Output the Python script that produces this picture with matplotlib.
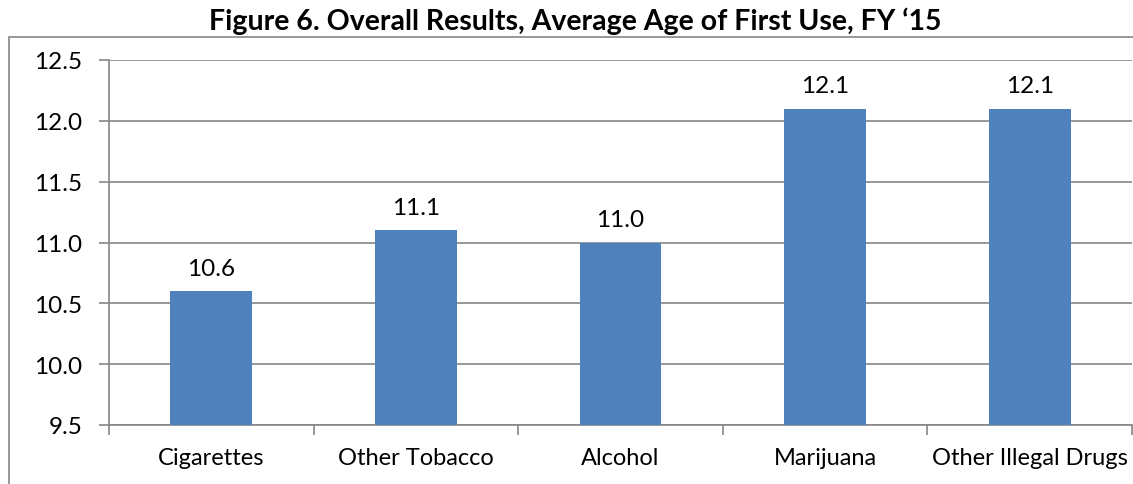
import matplotlib.pyplot as plt
from matplotlib.patches import Rectangle

categories = ["Cigarettes", "Other Tobacco", "Alcohol", "Marijuana", "Other Illegal Drugs"]
avg_age = [10.6, 11.1, 11.0, 12.1, 12.1]
y_ticks = [9.5, 10.0, 10.5, 11.0, 11.5, 12.0, 12.5]

plt.rcParams['font.family'] = ['Lato', 'DejaVu Sans']
GRAY = "#868686"
BLUE = "#4F81BD"

fig = plt.figure(figsize=(11.33, 4.85), dpi=100)
ax = fig.add_axes([109 / 1133, 59 / 485, 1023 / 1133, 365 / 485])

# outer chart frame (runs off the right and bottom edges)
fig.patches.append(Rectangle((9 / 1133, -0.1), 1.2, (485 - 38) / 485 + 0.1,
                             transform=fig.transFigure, fill=False,
                             edgecolor=GRAY, linewidth=1.2, zorder=0))

x = list(range(len(categories)))
bars = ax.bar(x, [v - 9.5 for v in avg_age], bottom=9.5, width=0.4,
              color=BLUE, zorder=3)

for xi, v in zip(x, avg_age):
    ax.annotate(f"{v:.1f}", (xi, v), xytext=(0, 9), textcoords="offset points",
                ha="center", va="bottom", fontsize=17.5)

ax.set_xlim(-0.5, len(categories) - 0.5)
ax.set_ylim(9.5, 12.5)
ax.set_yticks(y_ticks)
ax.set_yticklabels([f"{t:.1f}" for t in y_ticks], fontsize=17.5)
ax.grid(axis="y", color=GRAY, linewidth=1.2, zorder=0)
ax.set_axisbelow(True)

ax.set_xticks([i - 0.5 for i in range(len(categories) + 1)])
ax.set_xticklabels([])
ax.set_xticks(x, minor=True)
ax.set_xticklabels(categories, minor=True, fontsize=17)
ax.tick_params(axis="x", which="minor", length=0, pad=16)
ax.tick_params(axis="x", which="major", length=7, color=GRAY, width=1.2)
ax.tick_params(axis="y", length=7, color=GRAY, width=1.2, pad=12)

for side in ("top", "right"):
    ax.spines[side].set_visible(False)
for side in ("left", "bottom"):
    ax.spines[side].set_color(GRAY)
    ax.spines[side].set_linewidth(1.2)

fig.text(575 / 1133, 1 - 21 / 485, "Figure 6. Overall Results, Average Age of First Use, FY \u201815",
         ha="center", va="center", fontsize=20.5, fontweight="bold")

fig.savefig("out.png", dpi=100)
